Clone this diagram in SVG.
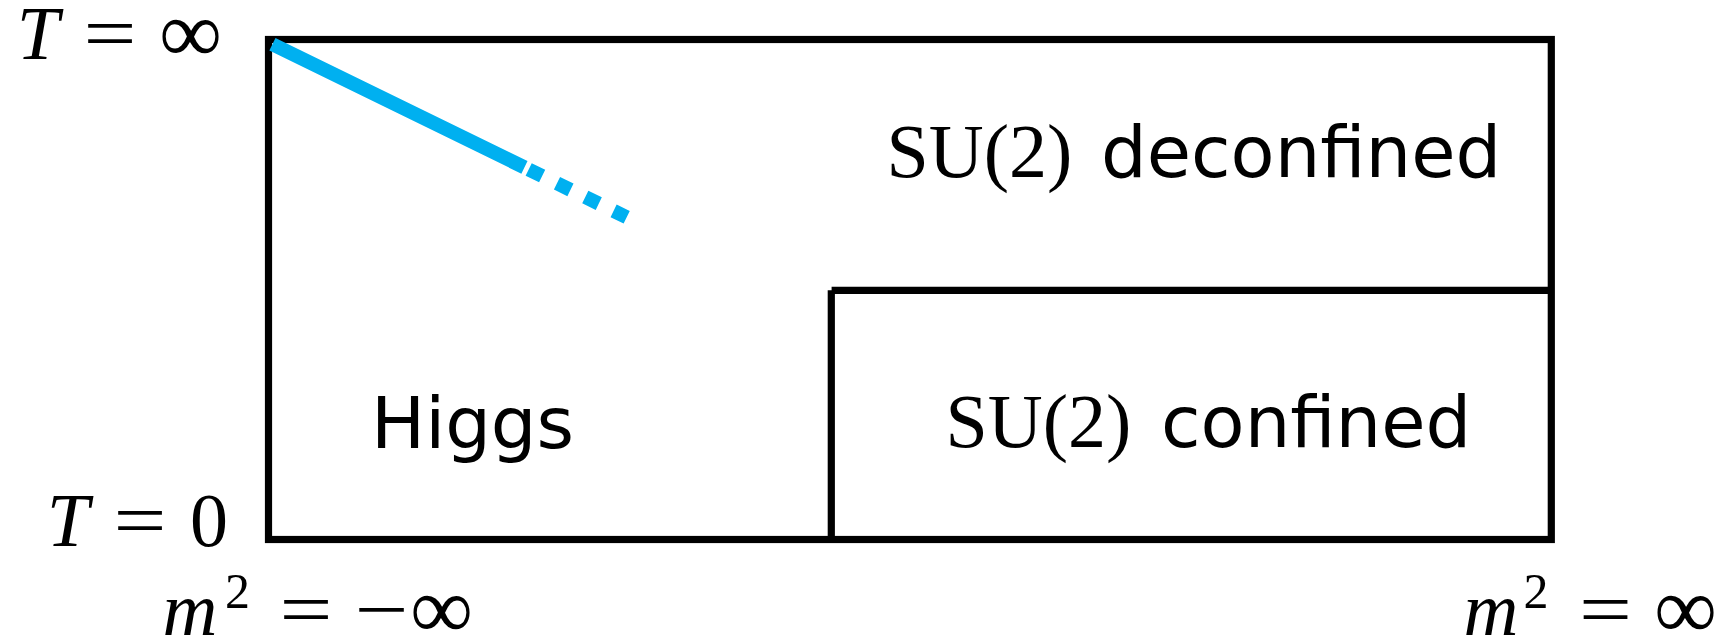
<svg xmlns="http://www.w3.org/2000/svg" width="1722" height="641" viewBox="0 0 1722 641">
  <style>
    .frame { fill: none; stroke: #000; stroke-width: 7.2; }
    .math { font-family: "Liberation Serif", "DejaVu Serif", serif; font-size: 76px; fill: #000; }
    .var { font-style: italic; }
    .inf { font-size: 88px; }
    .sup { font-family: "Liberation Serif", "DejaVu Serif", serif; font-size: 50px; fill: #000; }
    .label { font-family: "DejaVu Sans", Verdana, sans-serif; font-size: 72px; fill: #000; }
    .boundary { fill: none; stroke: #00B0F0; stroke-width: 14; stroke-linecap: butt; }
  </style>

  <rect width="1722" height="641" fill="#fff"/>

  <!-- phase diagram frame -->
  <g id="frame">
    <rect class="frame" x="268.5" y="39.5" width="1282.8" height="500"/>
    <line class="frame" x1="831.6" y1="290.3" x2="1551.3" y2="290.3"/>
    <line class="frame" x1="831.3" y1="290.3" x2="831.3" y2="539.5"/>
  </g>

  <!-- transition line, continued as a dotted guess -->
  <g id="connectors">
    <path class="boundary" d="M272.4 44.3 L626.7 217.3"
          stroke-dasharray="280.5 4.7 15 16.5 15 16.5 15 16.5 15 60"/>
  </g>

  <!-- axis labels -->
  <g id="label-t-inf">
    <text class="math var" x="38" y="59" text-anchor="middle">T</text>
    <text class="math" x="110" y="59" text-anchor="middle" textLength="53" lengthAdjust="spacingAndGlyphs">=</text>
    <text class="math inf" x="190.5" y="62" text-anchor="middle">∞</text>
  </g>
  <g id="label-t-zero">
    <text class="math var" x="68" y="546" text-anchor="middle">T</text>
    <text class="math" x="140" y="546" text-anchor="middle" textLength="53" lengthAdjust="spacingAndGlyphs">=</text>
    <text class="math" x="209" y="546" text-anchor="middle">0</text>
  </g>
  <g id="label-m-neg-inf">
    <text class="math var" x="190" y="635" text-anchor="middle">m</text>
    <text class="sup" x="237.5" y="608" text-anchor="middle">2</text>
    <text class="math" x="306" y="635" text-anchor="middle" textLength="53" lengthAdjust="spacingAndGlyphs">=</text>
    <text class="math" x="381.5" y="635" text-anchor="middle" textLength="54" lengthAdjust="spacingAndGlyphs">−</text>
    <text class="math inf" x="441.5" y="638" text-anchor="middle">∞</text>
  </g>
  <g id="label-m-pos-inf">
    <text class="math var" x="1491" y="635" text-anchor="middle">m</text>
    <text class="sup" x="1536" y="608" text-anchor="middle">2</text>
    <text class="math" x="1605.5" y="635" text-anchor="middle" textLength="53" lengthAdjust="spacingAndGlyphs">=</text>
    <text class="math inf" x="1685.5" y="638" text-anchor="middle">∞</text>
  </g>

  <!-- phase regions -->
  <g id="region-deconfined">
    <text class="math" x="886.5" y="177">SU(2)</text>
    <text class="label" x="1101" y="177">deconfined</text>
  </g>
  <g id="region-higgs">
    <text class="label" x="371" y="448">Higgs</text>
  </g>
  <g id="region-confined">
    <text class="math" x="945.5" y="447">SU(2)</text>
    <text class="label" x="1161" y="447">confined</text>
  </g>
</svg>
